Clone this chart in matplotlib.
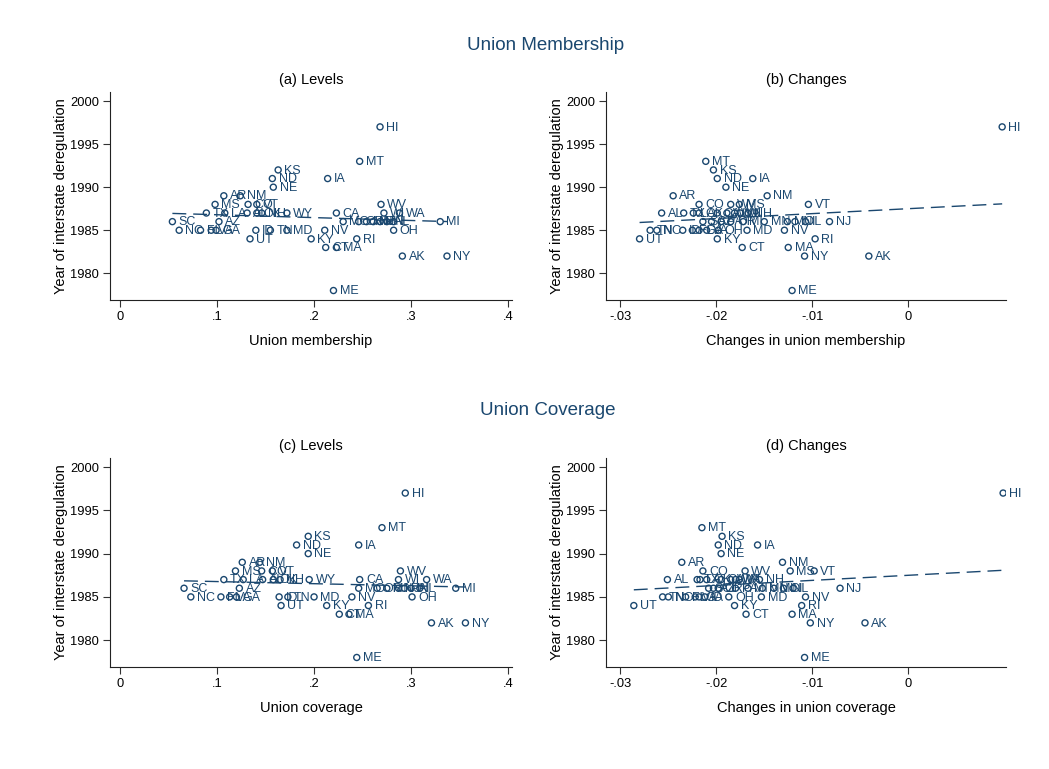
import numpy as np
import matplotlib
matplotlib.use("Agg")
import matplotlib.pyplot as plt

plt.rcParams['font.family'] = ['Liberation Sans', 'DejaVu Sans']

states = ["AK","AL","AR","AZ","CA","CO","CT","FL","GA","HI","IA","ID","IL","IN","KS","KY",
          "LA","MA","MD","ME","MI","MN","MO","MS","MT","NC","ND","NE","NH","NJ","NM","NV",
          "NY","OH","OK","OR","PA","RI","SC","TN","TX","UT","VA","VT","WA","WI","WV","WY"]

dereg_year = [1982,1987,1989,1986,1987,1988,1983,1985,1985,1997,1991,1985,1986,1986,1992,1984,
              1987,1983,1985,1978,1986,1986,1986,1988,1993,1985,1991,1990,1987,1986,1989,1985,
              1982,1985,1987,1986,1986,1984,1986,1985,1987,1984,1985,1988,1987,1987,1988,1987]

memb_level = [.291,.131,.107,.102,.223,.132,.212,.083,.099,.268,.214,.140,.282,.275,.163,.197,
              .108,.223,.172,.220,.330,.254,.230,.098,.247,.061,.157,.158,.146,.261,.124,.211,
              .337,.282,.141,.246,.268,.244,.054,.155,.089,.134,.094,.141,.288,.272,.269,.172]

memb_change = [-.0041,-.0257,-.0245,-.0205,-.0199,-.0218,-.0173,-.0225,-.0218,.0098,-.0162,-.0235,
               -.0107,-.0118,-.0203,-.0199,-.0224,-.0125,-.0168,-.0121,-.0172,-.0150,-.0126,-.0176,
               -.0211,-.0262,-.0199,-.0190,-.0167,-.0082,-.0147,-.0129,-.0108,-.0198,-.0218,-.0185,
               -.0195,-.0097,-.0214,-.0269,-.0234,-.0280,-.0210,-.0104,-.0181,-.0175,-.0185,-.0189]

cov_level = [.321,.147,.126,.123,.247,.146,.226,.104,.120,.294,.246,.164,.309,.300,.194,.213,
             .127,.236,.200,.244,.346,.275,.246,.119,.270,.073,.182,.194,.165,.287,.144,.239,
             .356,.301,.158,.265,.293,.256,.066,.173,.107,.166,.113,.157,.316,.287,.289,.195]

cov_change = [-.0045,-.0251,-.0236,-.0203,-.0195,-.0214,-.0169,-.0232,-.0218,.0099,-.0157,-.0212,
              -.0120,-.0130,-.0194,-.0181,-.0217,-.0121,-.0153,-.0108,-.0167,-.0152,-.0140,-.0123,
              -.0215,-.0250,-.0198,-.0195,-.0155,-.0071,-.0131,-.0107,-.0102,-.0187,-.0210,-.0198,
              -.0180,-.0111,-.0208,-.0256,-.0220,-.0286,-.0222,-.0098,-.0180,-.0176,-.0170,-.0185]

level_ticks = [0, .1, .2, .3, .4]
level_ticklabels = ["0", ".1", ".2", ".3", ".4"]
change_ticks = [-.03, -.02, -.01, 0]
change_ticklabels = ["-.03", "-.02", "-.01", "0"]
year_ticks = [1980, 1985, 1990, 1995, 2000]

NAVY = "#1a476f"
W, H = 1049, 769
fig = plt.figure(figsize=(W/100, H/100), dpi=100)

def add_ax(l, t, r, b):
    return fig.add_axes([l/W, 1-b/H, (r-l)/W, (b-t)/H])

def panel(ax, x, title, xlabel, xticks, xticklabels, xlim, ylim):
    x = np.asarray(x, float)
    y = np.asarray(dereg_year, float)
    ax.scatter(x, y, s=19, facecolors='none', edgecolors=NAVY, linewidths=1.0, zorder=3)
    for xi, yi, s in zip(x, y, states):
        ax.annotate(s, (xi, yi), xytext=(4.5, -0.5), textcoords='offset points',
                    ha='left', va='center', fontsize=9, color=NAVY, zorder=4)
    b1, b0 = np.polyfit(x, y, 1)
    xs = np.array([x.min(), x.max()])
    ax.plot(xs, b0 + b1*xs, color=NAVY, lw=1.0, dashes=(10, 5), zorder=2)
    ax.set_xlim(*xlim)
    ax.set_ylim(*ylim)
    ax.set_xticks(xticks)
    ax.set_xticklabels(xticklabels)
    ax.set_yticks(year_ticks)
    ax.tick_params(axis='both', labelsize=9.3, length=5, width=0.8, color='#333333', pad=3)
    for sp in ['top', 'right']:
        ax.spines[sp].set_visible(False)
    for sp in ['left', 'bottom']:
        ax.spines[sp].set_linewidth(0.8)
        ax.spines[sp].set_color('#222222')
    ax.set_title(title, fontsize=10.5, pad=6)
    ax.set_xlabel(xlabel, fontsize=10.5, labelpad=8)
    ax.set_ylabel("Year of interstate deregulation", fontsize=10.5, labelpad=1)

ylim_top = (1976.9, 2001.05)
ax_a = add_ax(110, 92, 512, 300)
panel(ax_a, memb_level, "(a) Levels", "Union membership", level_ticks, level_ticklabels,
      (-0.0103, 0.404), ylim_top)
ax_b = add_ax(606, 92, 1006, 300)
panel(ax_b, memb_change, "(b) Changes", "Changes in union membership", change_ticks,
      change_ticklabels, (-0.0315, 0.0102), ylim_top)
ax_c = add_ax(110, 458, 512, 667)
panel(ax_c, cov_level, "(c) Levels", "Union coverage", level_ticks, level_ticklabels,
      (-0.0103, 0.404), ylim_top)
ax_d = add_ax(606, 458, 1006, 667)
panel(ax_d, cov_change, "(d) Changes", "Changes in union coverage", change_ticks,
      change_ticklabels, (-0.0315, 0.0102), ylim_top)

fig.text(546/W, 1-46/H, "Union Membership", ha='center', va='center', fontsize=13.5, color=NAVY)
fig.text(548/W, 1-410/H, "Union Coverage", ha='center', va='center', fontsize=13.5, color=NAVY)

fig.savefig("out.png", dpi=100, facecolor='white')
